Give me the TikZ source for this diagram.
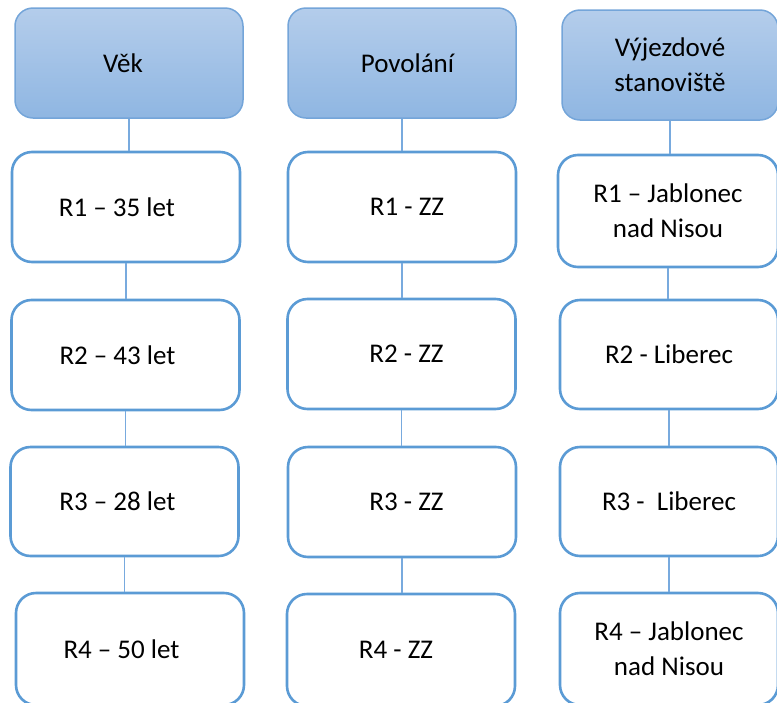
\documentclass[tikz,border=0pt]{standalone}
\usepackage{fontspec}
\setmainfont{Carlito}
\begin{document}
\begin{tikzpicture}[x=1pt,y=-1pt,
  every node/.style={font=\fontsize{27}{35}\selectfont, align=center, inner sep=0pt},
  headbox/.style={draw=headline, line width=1.5pt, rounded corners=18pt,
    top color=headtop, bottom color=headbot, minimum width=#1, minimum height=110pt},
  headbox/.default=228pt,
  itembox/.style={draw=boxline, line width=2.6pt, rounded corners=20pt, fill=white,
    minimum width=#1, minimum height=110pt},
  itembox/.default=228pt,
  nudge/.style={execute at begin node={\hspace*{#1}}},
  link/.style={draw=linkcol, line width=1.4pt}]
\definecolor{headline}{RGB}{116,165,217}
\definecolor{headtop}{RGB}{180,205,235}
\definecolor{headbot}{RGB}{143,182,226}
\definecolor{boxline}{RGB}{91,155,213}
\definecolor{linkcol}{RGB}{120,170,222}

\useasboundingbox (0,0) rectangle (777,702);
\clip (0,0) rectangle (777,702);

% column: age
\node[headbox, nudge=-12pt] (h1) at (129,63) {Věk};
\node[itembox, nudge=-18pt] (a1) at (126,207) {R1 – 35 let};
\node[itembox, nudge=-16pt] (a2) at (125.5,355) {R2 – 43 let};
\node[itembox, nudge=-14pt, minimum height=109pt] (a3) at (124.5,501.5) {R3 – 28 let};
\node[itembox, nudge=-17pt, minimum height=112pt] (a4) at (130,649) {R4 – 50 let};

% column: occupation
\node[headbox, nudge=11pt] (h2) at (402,63) {Povolání};
\node[itembox, nudge=10pt] (b1) at (402,207) {R1 - ZZ};
\node[itembox, nudge=10pt] (b2) at (401.5,354) {R2 - ZZ};
\node[itembox, nudge=9pt] (b3) at (402,502) {R3 - ZZ};
\node[itembox, nudge=-10pt, minimum height=112pt] (b4) at (401,650) {R4 - ZZ};

% column: dispatch station
\node[headbox=216pt] (h3) at (670,65) {Výjezdové\\stanoviště};
\node[itembox=220pt, minimum height=112pt] (c1) at (668,211) {R1 – Jablonec\\nad Nisou};
\node[itembox=218pt, minimum height=109pt] (c2) at (669,354.5) {R2 - Liberec};
\node[itembox=218pt, minimum height=109pt] (c3) at (669,501.5) {R3 -\ \ Liberec};
\node[itembox=218pt, minimum height=112pt] (c4) at (669,649) {R4 – Jablonec\\nad Nisou};

% connectors
\foreach \u/\v in {h1/a1,a1/a2,a2/a3,a3/a4,h2/b1,b1/b2,b2/b3,b3/b4,h3/c1,c1/c2,c2/c3,c3/c4}
  \path[link] (\u.south) -- (\u.south |- \v.north);
\end{tikzpicture}
\end{document}
